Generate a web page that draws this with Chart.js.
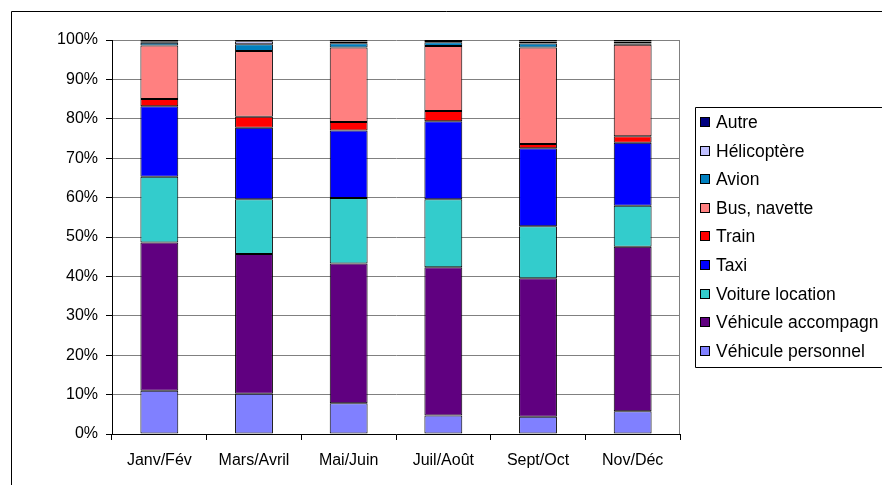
<!DOCTYPE html>
<html lang="fr">
<head>
<meta charset="utf-8">
<title>Mode de transport par période</title>
<script src="https://cdn.jsdelivr.net/npm/chart.js@4/dist/chart.umd.min.js"></script>
<style>
    html, body { margin: 0; padding: 0; background: #fff; overflow: hidden; }
    #transport-chart { display: block; }
</style>
</head>
<body>
<canvas id="transport-chart" width="882" height="485"></canvas>
<script>
// --- Data (percent of trips per two-month period) ---
const periods = ['Janv/Fév', 'Mars/Avril', 'Mai/Juin', 'Juil/Août', 'Sept/Oct', 'Nov/Déc'];

const vehiculePersonnel = [11.0, 10.2, 7.8, 4.7, 4.4, 5.8];
const vehiculeAccompagn = [37.6, 35.5, 35.5, 37.6, 35.1, 41.7];
const voitureLocation   = [16.7, 13.9, 16.6, 17.3, 13.2, 10.4];
const taxi              = [17.9, 18.1, 17.1, 19.8, 19.8, 16.0];
const train             = [1.8, 2.8, 2.2, 2.6, 1.1, 1.7];
const busNavette        = [13.6, 16.7, 18.9, 16.5, 24.5, 23.2];
const avion             = [0.7, 1.7, 1.1, 0.9, 1.0, 0.3];
const helicoptere       = [0.4, 0.8, 0.4, 0.1, 0.5, 0.5];
const autre             = [0.3, 0.3, 0.4, 0.5, 0.4, 0.4];

const yTicks = [0, 10, 20, 30, 40, 50, 60, 70, 80, 90, 100];

document.addEventListener('DOMContentLoaded', function() {
    const canvas = document.getElementById('transport-chart');
    const ctx = canvas.getContext('2d');
    const FONT = '"Liberation Sans", Arial, sans-serif';

    // stacking order bottom -> top
    const series = [
        { label: 'Véhicule personnel', data: vehiculePersonnel, color: '#8080FF' },
        { label: 'Véhicule accompagn', data: vehiculeAccompagn, color: '#600080' },
        { label: 'Voiture location', data: voitureLocation, color: '#33CCCC' },
        { label: 'Taxi', data: taxi, color: '#0000FF' },
        { label: 'Train', data: train, color: '#FF0000' },
        { label: 'Bus, navette', data: busNavette, color: '#FF8080' },
        { label: 'Avion', data: avion, color: '#0080C0' },
        { label: 'Hélicoptère', data: helicoptere, color: '#C0C0FF' },
        { label: 'Autre', data: autre, color: '#000080' }
    ];

    // Outer frame, plot right border and the boxed legend
    const framePlugin = {
        id: 'framePlugin',
        beforeDatasetsDraw(chart) {
            const a = chart.chartArea;
            const c = chart.ctx;
            c.save();
            c.strokeStyle = '#808080';
            c.lineWidth = 1;
            c.beginPath();
            c.moveTo(Math.round(a.right) - 0.5, a.top);
            c.lineTo(Math.round(a.right) - 0.5, a.bottom);
            c.stroke();
            c.restore();
        },
        afterDraw(chart) {
            const c = chart.ctx;
            const w = chart.width;
            c.save();
            // outer frame (only left and top edges are in the picture)
            c.strokeStyle = '#000';
            c.lineWidth = 1;
            c.beginPath();
            c.moveTo(11.5, chart.height);
            c.lineTo(11.5, 11.5);
            c.lineTo(w, 11.5);
            c.stroke();

            // legend box, its right edge runs off the picture
            c.beginPath();
            c.moveTo(w, 107.5);
            c.lineTo(695.5, 107.5);
            c.lineTo(695.5, 367.5);
            c.lineTo(w, 367.5);
            c.stroke();

            const items = chart.data.datasets.slice().reverse();
            c.font = '17.5px ' + FONT;
            c.textBaseline = 'middle';
            c.textAlign = 'left';
            items.forEach((ds, i) => {
                const y = Math.round(122 + i * 28.6);
                c.fillStyle = ds.backgroundColor;
                c.fillRect(701, y - 4, 8, 8);
                c.strokeStyle = '#000';
                c.strokeRect(700.5, y - 4.5, 9, 9);
                c.fillStyle = '#000';
                c.fillText(ds.label, 716, y + 1);
            });
            c.restore();
        }
    };

    new Chart(ctx, {
        type: 'bar',
        data: {
            labels: periods,
            datasets: series.map(s => ({
                label: s.label,
                data: s.data,
                backgroundColor: s.color,
                borderColor: '#000',
                borderWidth: 1,
                borderSkipped: false,
                barPercentage: 0.4,
                categoryPercentage: 1.0
            }))
        },
        options: {
            responsive: false,
            animation: false,
            layout: { padding: { left: 0, top: 40, right: 202, bottom: 0 } },
            plugins: {
                legend: { display: false },
                tooltip: { enabled: false }
            },
            scales: {
                x: {
                    stacked: true,
                    grid: {
                        offset: true,
                        drawOnChartArea: false,
                        drawTicks: true,
                        tickLength: 6,
                        color: '#000'
                    },
                    border: { color: '#000', width: 1 },
                    ticks: {
                        color: '#000',
                        padding: 11,
                        font: { family: FONT, size: 16 }
                    },
                    afterFit: function(scale) { scale.height = 51; }
                },
                y: {
                    stacked: true,
                    min: 0,
                    max: 100,
                    afterBuildTicks: function(scale) {
                        scale.ticks = yTicks.map(v => ({ value: v }));
                    },
                    grid: {
                        color: '#808080',
                        lineWidth: 1,
                        drawTicks: true,
                        tickLength: 6,
                        tickColor: '#000'
                    },
                    border: { color: '#000', width: 1 },
                    ticks: {
                        color: '#000',
                        padding: 8,
                        font: { family: FONT, size: 16 },
                        callback: function(value) { return value + '%'; }
                    },
                    afterFit: function(scale) { scale.width = 112; }
                }
            }
        },
        plugins: [framePlugin]
    });
});
</script>
</body>
</html>
